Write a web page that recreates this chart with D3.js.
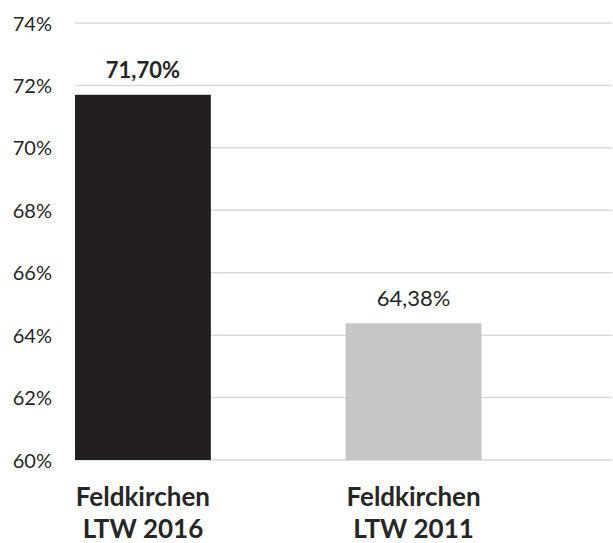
<!DOCTYPE html>
<html><head><meta charset="utf-8">
<script src="https://cdn.jsdelivr.net/npm/d3@7"></script>
<style>body{margin:0;background:#fff}svg{display:block}text{font-family:Lato,"Open Sans",sans-serif;fill:#262626}</style>
</head><body>
<script>
const categories = [["Feldkirchen","LTW 2016"],["Feldkirchen","LTW 2011"]];
const values = [71.70, 64.38];
const valueLabels = ["71,70%", "64,38%"];
const yTicks = [60, 62, 64, 66, 68, 70, 72, 74];
const colors = ["#231f20", "#c6c6c6"];

const W = 613, H = 543;
const svg = d3.select("body").append("svg").attr("width", W).attr("height", H);
const y = d3.scaleLinear().domain([60, 74]).range([460, 23]);
const x = d3.scaleBand().domain([0, 1]).range([75, 481.5]).paddingInner(0.498).paddingOuter(0);

svg.append("g").selectAll("line").data(yTicks).join("line")
  .attr("x1", 75).attr("x2", 612)
  .attr("y1", d => y(d)).attr("y2", d => y(d))
  .attr("stroke", "#d9d9d9").attr("stroke-width", 1.5);

svg.append("g").selectAll("text").data(yTicks).join("text")
  .attr("x", 52).attr("y", d => y(d) + 7.5)
  .attr("text-anchor", "end").attr("font-size", 20)
  .text(d => d + "%");

svg.append("g").selectAll("rect").data(values).join("rect")
  .attr("x", (d, i) => x(i)).attr("width", x.bandwidth())
  .attr("y", d => y(d)).attr("height", d => y(60) - y(d))
  .attr("fill", (d, i) => colors[i]);

svg.append("g").selectAll("text").data(values).join("text")
  .attr("x", (d, i) => x(i) + x.bandwidth() / 2)
  .attr("y", d => y(d) - 17)
  .attr("text-anchor", "middle").attr("font-size", 22)
  .attr("font-weight", (d, i) => i === 0 ? "bold" : "normal")
  .text((d, i) => valueLabels[i]);

const cat = svg.append("g").selectAll("text").data(categories).join("text")
  .attr("text-anchor", "middle").attr("font-size", 26).attr("font-weight", "bold");
cat.each(function(d, i) {
  const t = d3.select(this);
  d.forEach((line, j) => t.append("tspan")
    .attr("x", x(i) + x.bandwidth() / 2).attr("y", 506 + j * 32).text(line));
});
</script>
</body></html>
